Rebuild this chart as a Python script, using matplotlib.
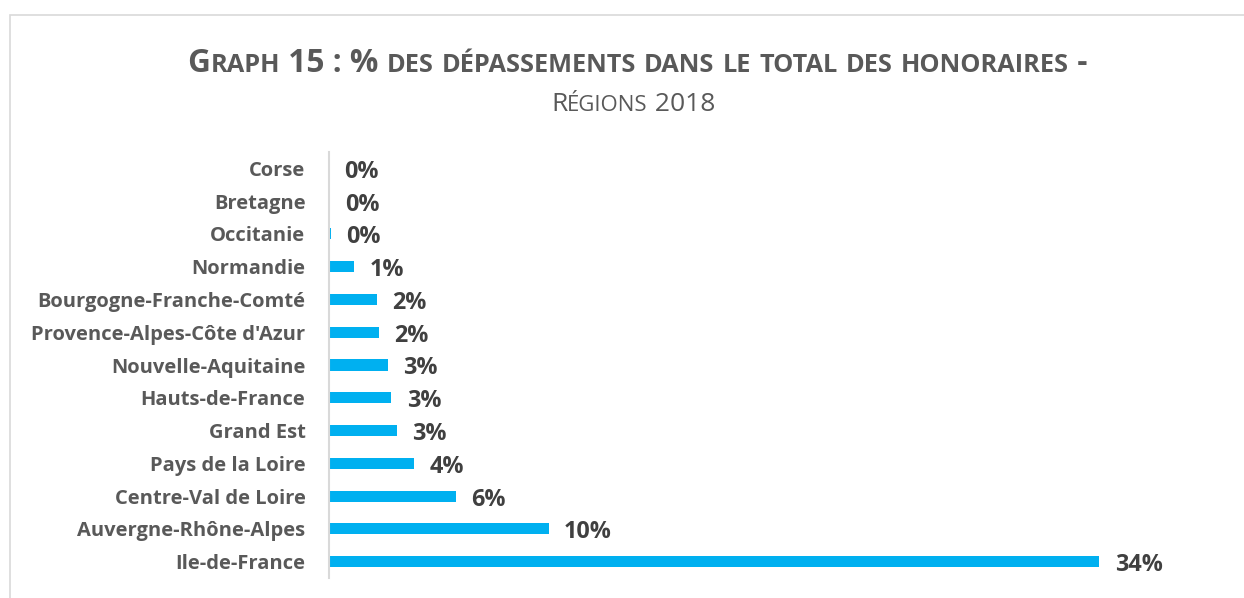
import matplotlib
matplotlib.use("Agg")
import matplotlib.pyplot as plt
from matplotlib.patches import Rectangle

regions = ["Corse", "Bretagne", "Occitanie", "Normandie", "Bourgogne-Franche-Comté",
           "Provence-Alpes-Côte d'Azur", "Nouvelle-Aquitaine", "Hauts-de-France",
           "Grand Est", "Pays de la Loire", "Centre-Val de Loire",
           "Auvergne-Rhône-Alpes", "Ile-de-France"]
values = [0.0, 0.04, 0.07, 1.1, 2.1, 2.2, 2.6, 2.75, 3.0, 3.75, 5.6, 9.7, 34.0]
labels = ["0%", "0%", "0%", "1%", "2%", "2%", "3%", "3%", "3%", "4%", "6%", "10%", "34%"]

title_line1 = "Graph 15 : % des dépassements dans le total des honoraires -"
title_line2 = "Régions 2018"

FONT = "Open Sans"
W, H = 1244, 598
fig = plt.figure(figsize=(W / 100, H / 100), dpi=100)
fig.patch.set_facecolor("white")

# chart border (partially off-image)
fig.patches.append(Rectangle((10 / W, -0.1), 1.2, 1 - 15 / H + 0.1, transform=fig.transFigure,
                             fill=False, edgecolor="#D9D9D9", linewidth=1.2))

ax_left, ax_right = 329 / W, 1190 / W
ax_bottom, ax_top = 1 - 578 / H, 1 - 152 / H
ax = fig.add_axes([ax_left, ax_bottom, ax_right - ax_left, ax_top - ax_bottom])
ypos = list(range(len(regions)))[::-1]
ax.barh(ypos, values, height=0.34, color="#00B0F0")
ax.set_ylim(-0.5, len(regions) - 0.5)
ax.set_xlim(0, 38.0)
ax.set_yticks(ypos)
ax.set_yticklabels(regions, fontfamily=FONT, fontweight="bold", fontsize=14.5, color="#595959")
ax.tick_params(axis="y", length=0, pad=17)
ax.set_xticks([])
for s in ["top", "right", "bottom"]:
    ax.spines[s].set_visible(False)
ax.spines["left"].set_color("#D9D9D9")
ax.spines["left"].set_linewidth(1.5)
for y, v, lab in zip(ypos, values, labels):
    ax.annotate(lab, (v, y), xytext=(11, -2.5), textcoords="offset points", ha="left", va="center",
                fontfamily=FONT, fontweight="bold", fontsize=16.8, color="#404040")


def small_caps(text, x_center, y, size, weight, color, ratio=0.8):
    runs = []
    for ch in text:
        small = ch.islower()
        c = ch.upper()
        if runs and runs[-1][1] == small:
            runs[-1][0] += c
        else:
            runs.append([c, small])
    renderer = fig.canvas.get_renderer()
    objs = []
    for s, small in runs:
        t = fig.text(0, y, s, fontsize=size * (ratio if small else 1.0), fontweight=weight,
                     color=color, fontfamily=FONT, ha="left", va="baseline")
        objs.append(t)
    widths = [t.get_window_extent(renderer).width for t in objs]
    total = sum(widths)
    x = x_center * W - total / 2
    for t, w in zip(objs, widths):
        t.set_x(x / W)
        x += w


small_caps(title_line1, 637.5 / W, 1 - 72 / H, 22.8, "bold", "#595959")
small_caps(title_line2, 633 / W, 1 - 111 / H, 19, "normal", "#595959", ratio=0.84)

fig.savefig("out.png", dpi=100, facecolor="white")
